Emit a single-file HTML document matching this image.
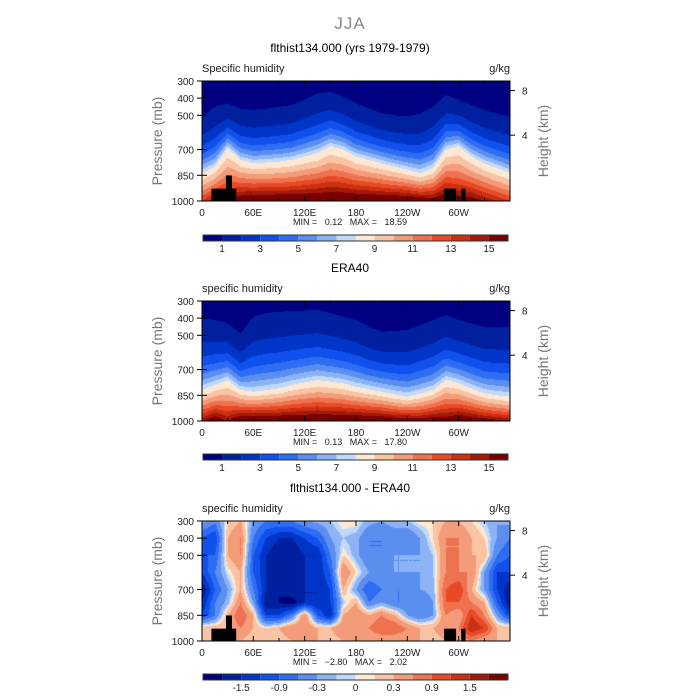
<!DOCTYPE html>
<html><head><meta charset="utf-8">
<style>
body{margin:0;background:#fff;font-family:"Liberation Sans",sans-serif;}
#root{position:relative;width:700px;height:700px;overflow:hidden;background:#fff;}
.t{position:absolute;white-space:nowrap;}
canvas{position:absolute;}
</style></head>
<body><div id="root">
<div class="t" style="left:0;width:700px;text-align:center;top:14px;font-size:17px;color:#888;letter-spacing:1px;">JJA</div>
<svg id="svg" width="700" height="700" style="position:absolute;left:0;top:0"></svg>
</div>
<script>
// ---- data ----
const lonGrid=[0,15,30,45,60,75,90,105,120,135,150,165,180,195,210,225,240,255,270,285,300,315,330,345,360];
// Model: pressure of q=8 level, q=1 level, surface q
const m_p8=[837,800,692,760,780,775,770,760,740,720,680,700,740,760,780,800,818,837,808,700,680,740,780,808,837];
const m_p1=[507,450,430,460,469,460,450,440,410,372,362,390,430,460,488,500,507,490,450,382,410,440,469,490,507];
const m_qs=[13,15,15,16.5,17,17,17,17,17,17,17,17,17,17,17,17,17,16.5,16,17,16,16,15,14,13];
// ERA40
const e_p8=[819,790,761,819,829,820,810,790,775,761,770,780,800,815,829,845,858,840,819,761,780,810,839,850,858];
const e_p1=[401,410,430,489,391,370,362,360,355,352,370,390,411,450,479,475,469,440,411,381,411,430,450,450,450];
const e_qs=[15,16.5,15,17,17,17,17,17,17,17,17,17,17,17,17,16.5,16.5,16,16.5,16,17,16.5,16,15.5,15];
// Difference grid [pressure level][lon]
const dLev=[300,400,500,600,700,775,850,925,1000];
const dVal=[
[-0.2,-0.5,0.1,0.3,-0.3,-0.6,-0.6,-0.6,-0.3,-0.2,-0.1,0.1,0.1,-0.2,-0.3,-0.1,-0.1,0.1,0.1,0.3,0.3,0.1,-0.1,-0.3,-0.2],
[-0.9,-1.2,0.3,0.6,-0.6,-1.2,-1.5,-1.5,-1.2,-0.9,-0.3,-0.1,-0.2,-0.6,-0.6,-0.6,-0.6,-0.3,0.1,0.6,0.6,0.3,0.1,-0.3,-0.6],
[-0.9,-0.9,0.3,0.6,-0.9,-1.5,-1.8,-1.8,-1.5,-1.5,-0.6,0.1,-0.2,-0.6,-0.6,-0.3,-0.3,-0.3,-0.1,0.6,0.6,0.3,0.3,-0.6,-0.9],
[-1.2,-0.6,0,0.3,-0.9,-1.5,-1.5,-1.8,-1.5,-1.5,-0.9,0.6,0.1,-0.3,-0.3,-0.3,-0.3,-0.3,-0.1,0.6,0.6,0.6,-0.3,-1.2,-1.2],
[-1.8,-0.9,-0.3,0.3,-0.6,-1.5,-1.8,-1.5,-1.5,-1.5,-1.2,0.3,-0.3,-0.9,-0.6,-0.6,-0.6,-0.3,-0.2,0.9,1.2,0.3,-0.3,-1.2,-1.8],
[-1.5,-0.6,-0.2,0.6,-0.3,-1.8,-1.8,-2.0,-1.5,-1.5,-1.2,-0.1,0.3,-0.6,-0.3,-0.6,-0.6,-0.6,-0.3,0.9,0.9,0.6,0.3,-0.9,-1.8],
[-1.2,-0.6,0.3,0.9,0.3,-1.2,-1.2,-0.6,0.6,-0.9,-1.5,0.3,0.6,0.3,0.6,0.3,-0.3,-0.6,-0.3,0.6,0.3,1.2,0.6,-0.3,-1.2],
[0.3,0.3,0.3,0.6,0.3,0.1,0.3,0.6,0.6,0.3,0.3,0.6,0.6,0.6,0.9,0.9,0.6,0.3,0.3,0.6,0.6,1.5,1.2,0.3,0.3],
[0.1,0.1,0.2,0.3,0.1,0.1,0.1,0.3,0.3,0.3,0.1,0.3,0.3,0.3,0.3,0.3,0.3,0.3,0.1,0.3,0.3,0.6,0.3,0.3,0.1]];
const qBounds=[1,2,3,4,5,6,7,8,9,10,11,12,13,14,15];
const qTickLabels=["1","3","5","7","9","11","13","15"];
const dBounds=[-1.8,-1.5,-1.2,-0.9,-0.6,-0.3,-0.1,0,0.1,0.3,0.6,0.9,1.2,1.5,1.8];
const dTickLabels=["-1.5","-0.9","-0.3","0","0.3","0.9","1.5"];
const xTickLons=[0,60,120,180,240,300];
const xTickLabels=["0","60E","120E","180","120W","60W"];
const pTicks=[300,400,500,700,850,1000];
const hTicks=[8,4];
const hTickP=[356,616];
const minmax=[["0.12","18.59"],["0.13","17.80"],["\u22122.80","2.02"]];
const terrain=[[11,40,928],[28,35,851],[283,297,928],[303,308,928]];
const pal=['#000080','#0020a0','#0036c8','#1050ec','#2e6cf4','#5a8eef','#8db3f5','#c0d9fa','#fde8d4','#f9c4a4','#f49c7a','#ef7250','#e84a26','#cc3012','#a31a08','#7a0000'];

// ---- layout ----
const X0=202,W=308,H=120;
const panels=[{top:81,title:"flthist134.000 (yrs 1979-1979)",left:"Specific humidity",cb:235},
{top:301,title:"ERA40",left:"specific humidity",cb:454},
{top:521,title:"flthist134.000 - ERA40",left:"specific humidity",cb:674}];
const xs=lon=>X0+lon*W/360;
const ys=(top,p)=>top+(p-300)*H/700;
const svg=document.getElementById('svg');
const root=document.getElementById('root');
const NS='http://www.w3.org/2000/svg';
function interp(arr,lon){let i=Math.min(Math.floor(lon/15),23);let f=(lon-lonGrid[i])/15;return arr[i]*(1-f)+arr[i+1]*f;}
function qval(P8,P1,QS,lon,p){const p8=interp(P8,lon),p1=interp(P1,lon),qs=interp(QS,lon);
 if(p<=p8)return Math.exp(Math.log(8)*(p-p1)/(p8-p1));
 return Math.exp(Math.log(8)+(Math.log(qs)-Math.log(8))*(p-p8)/(1000-p8));}
function dval(lon,p){let i=Math.min(Math.floor(lon/15),23);let f=(lon-lonGrid[i])/15;
 let j=0;while(j<dLev.length-2&&p>dLev[j+1])j++;let g=(p-dLev[j])/(dLev[j+1]-dLev[j]);
 const a=dVal[j][i]*(1-f)+dVal[j][i+1]*f,b=dVal[j+1][i]*(1-f)+dVal[j+1][i+1]*f;return a*(1-g)+b*g;}
function cls(v,b){let k=0;while(k<b.length&&v>=b[k])k++;return k;}
function txt(x,y,s,size,anchor,name,extra){const t=document.createElementNS(NS,'text');t.setAttribute('x',x);t.setAttribute('y',y);t.setAttribute('font-size',size);t.setAttribute('text-anchor',anchor||'start');t.setAttribute('font-family','Liberation Sans, sans-serif');t.setAttribute('fill',(extra&&extra.fill)||'#000');t.setAttribute('style','white-space:pre');if(extra&&extra.tr)t.setAttribute('transform',extra.tr);t.textContent=s;


svg.appendChild(t);return t;}
function line(x1,y1,x2,y2,name){const l=document.createElementNS(NS,'line');l.setAttribute('x1',x1);l.setAttribute('y1',y1);l.setAttribute('x2',x2);l.setAttribute('y2',y2);l.setAttribute('stroke','#000');l.setAttribute('stroke-width','1');


svg.appendChild(l);}
function rect(x,y,w,h,fill,name,stroke){const r=document.createElementNS(NS,'rect');r.setAttribute('x',x);r.setAttribute('y',y);r.setAttribute('width',w);r.setAttribute('height',h);r.setAttribute('fill',fill);if(stroke){r.setAttribute('stroke',stroke);r.setAttribute('stroke-width','1');}


svg.appendChild(r);}

panels.forEach((P,pi)=>{
 const cv=document.createElement('canvas');cv.width=W;cv.height=H;cv.style.left=X0+'px';cv.style.top=P.top+'px';
 
 
 root.insertBefore(cv,svg);
 const c=cv.getContext('2d');
 for(let px=0;px<W;px+=1){const lon=(px+0.5)*360/W;
  for(let py=0;py<H;py+=1){const p=300+(py+0.5)*700/H;let k;
   if(pi==0)k=cls(qval(m_p8,m_p1,m_qs,lon,p),qBounds);
   else if(pi==1)k=cls(qval(e_p8,e_p1,e_qs,lon,p),qBounds);
   else k=cls(dval(lon,p),dBounds);
   c.fillStyle=pal[k];c.fillRect(px,py,1,1);}}
 if(pi!=1)terrain.forEach(t=>rect(xs(t[0]),ys(P.top,t[2]),xs(t[1])-xs(t[0]),P.top+H-ys(P.top,t[2]),'#000','terrain-block'));
 rect(X0,P.top,W,H,'none','plot-frame','#000');
 txt(350,P.top-29,P.title,12,'middle','panel-title');
 txt(X0,P.top-9,P.left,11,'start','variable-label',{fill:'#222'});
 txt(510,P.top-9,'g/kg',11,'end','units-label',{fill:'#222'});
 xTickLons.forEach((l,i)=>{line(xs(l),P.top+H,xs(l),P.top+H-5,'x-tick');line(xs(l),P.top,xs(l),P.top+5,'x-tick');
  txt(xs(l),P.top+H+15,xTickLabels[i],10,'middle','x-tick-label',{fill:'#222'});
  line(xs(l+30),P.top+H,xs(l+30),P.top+H-3,'x-minor-tick');line(xs(l+30),P.top,xs(l+30),P.top+3,'x-minor-tick');});
 pTicks.forEach(p=>{line(X0-5,ys(P.top,p),X0,ys(P.top,p),'y-tick');line(X0,ys(P.top,p),X0+5,ys(P.top,p),'y-tick');
  txt(X0-8,ys(P.top,p)+4,String(p),10,'end','y-tick-label',{fill:'#222'});});
 hTicks.forEach((h,i)=>{const y=ys(P.top,hTickP[i]);line(510,y,515,y,'height-tick');txt(522,y+4,String(h),10,'start','height-tick-label',{fill:'#222'});});
 txt(162,P.top+60,'Pressure (mb)',14,'middle','y-axis-title',{fill:'#777',tr:'rotate(-90 162 '+(P.top+60)+')'});
 txt(548,P.top+60,'Height (km)',14,'middle','right-axis-title',{fill:'#777',tr:'rotate(-90 548 '+(P.top+60)+')'});
 txt(350,P.top+H+24,'MIN =   '+minmax[pi][0]+'   MAX =   '+minmax[pi][1],9,'middle','min-max-label',{fill:'#222'});
 const cbx=203,cbw=305,bw=cbw/16;
 for(let k=0;k<16;k++)rect(cbx+k*bw,P.cb,bw,6,pal[k],'colorbar-box');
 rect(cbx,P.cb,cbw,6,'none','colorbar-frame','#333');
 const labs=pi<2?qTickLabels:dTickLabels;
 labs.forEach((s,i)=>{const k=pi<2?1+2*i:2+2*i;txt(cbx+k*bw,P.cb+17,s,10,'middle','colorbar-label',{fill:'#222'});});
});
</script>
</body></html>
